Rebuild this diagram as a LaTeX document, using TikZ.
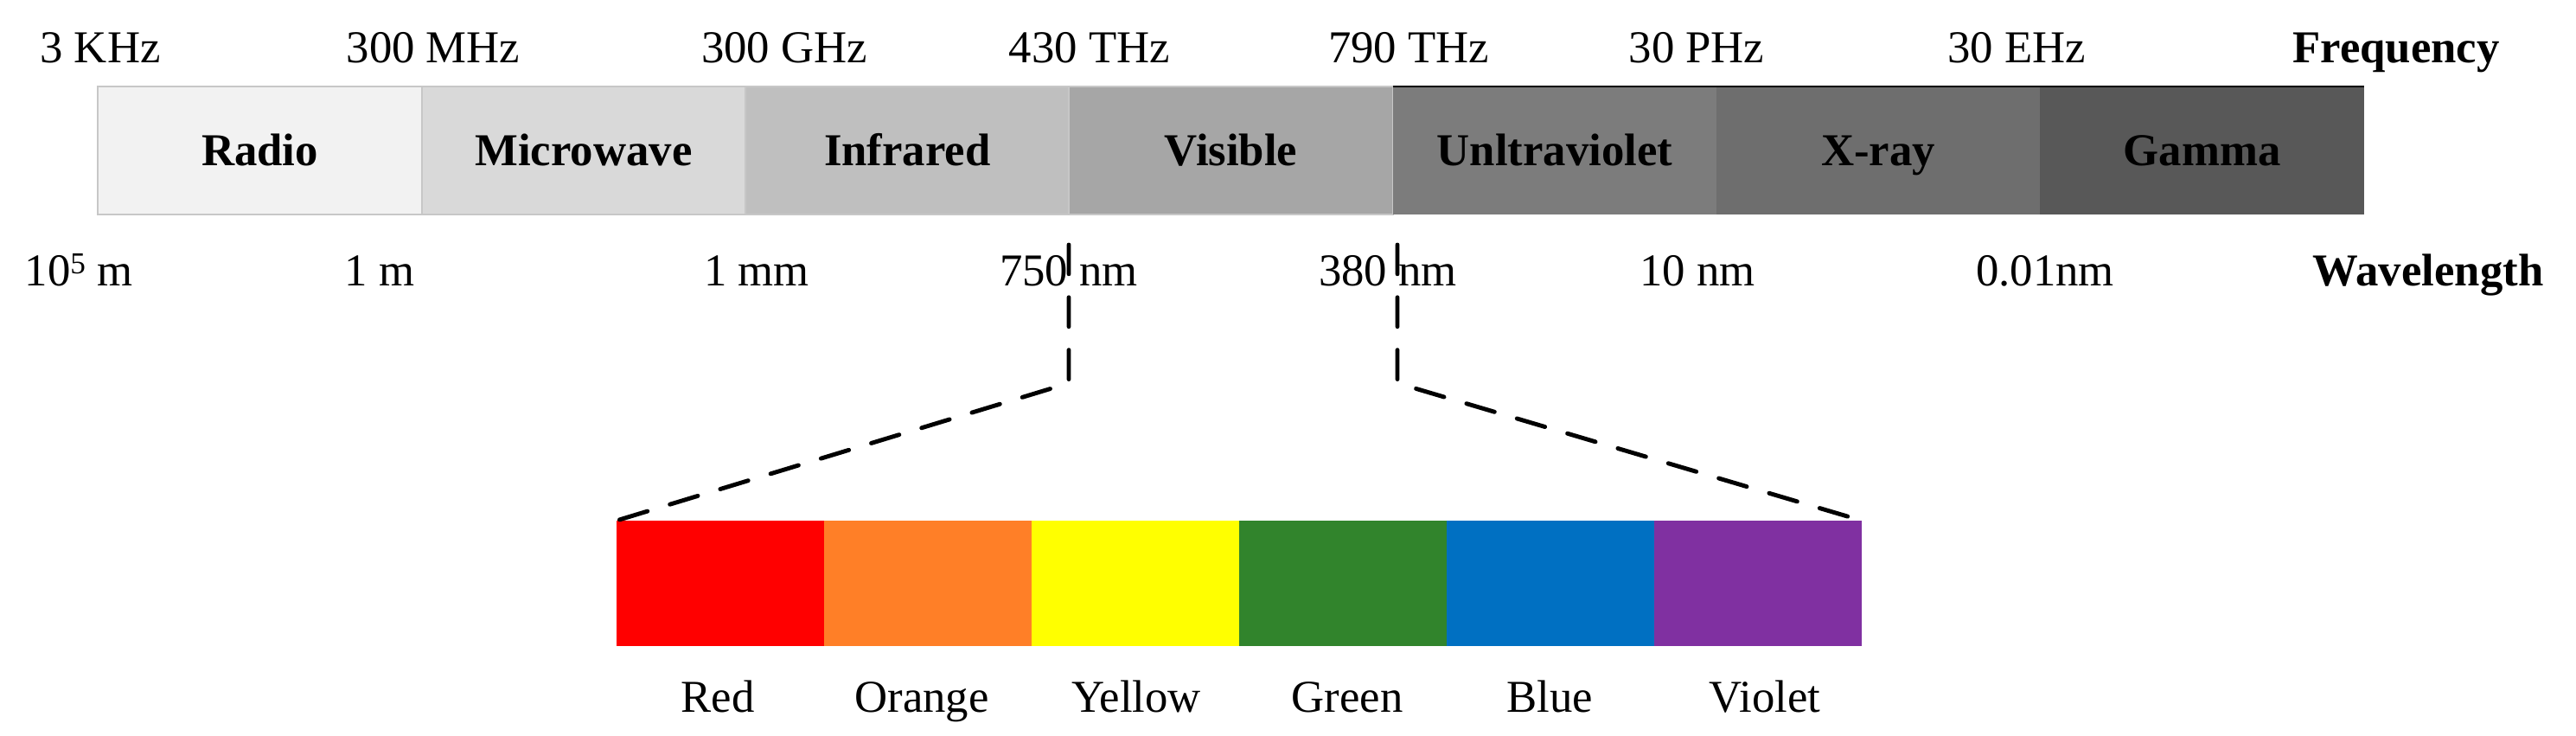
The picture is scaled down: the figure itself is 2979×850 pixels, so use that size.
\documentclass[tikz,border=0pt]{standalone}
\usepackage{fontspec}
\setmainfont{Liberation Serif}
\begin{document}
\begin{tikzpicture}[x=0.01cm,y=-0.01cm,
  font=\fontsize{15}{18}\selectfont,
  band/.style={rectangle,inner sep=0pt,outer sep=0pt,minimum width=3.743cm,minimum height=1.48cm,
     text height=14pt,text depth=3.8pt,font=\fontsize{15}{18}\selectfont\bfseries},
  lightband/.style={band,draw=black!22,line width=0.6pt},
  colorband/.style={rectangle,inner sep=0pt,outer sep=0pt,minimum width=2.4cm,minimum height=1.45cm},
  lab/.style={anchor=base,inner sep=0pt},
  axisname/.style={lab,font=\fontsize{15}{18}\selectfont\bfseries},
  zoomline/.style={line width=1.4pt,line cap=round,dash pattern=on 9.6pt off 7.7pt}
]
\useasboundingbox (0,0) rectangle (2979,850);
\definecolor{cRadio}{HTML}{F2F2F2}
\definecolor{cMicro}{HTML}{D9D9D9}
\definecolor{cIR}{HTML}{BFBFBF}
\definecolor{cVis}{HTML}{A6A6A6}
\definecolor{cUV}{HTML}{7C7C7C}
\definecolor{cX}{HTML}{6E6E6E}
\definecolor{cGamma}{HTML}{585858}
\definecolor{cRed}{HTML}{FF0000}
\definecolor{cOrange}{HTML}{FF7F27}
\definecolor{cYellow}{HTML}{FFFF00}
\definecolor{cGreen}{HTML}{31842C}
\definecolor{cBlue}{HTML}{0070C2}
\definecolor{cViolet}{HTML}{8030A1}

% spectrum bands
\node[lightband,fill=cRadio] (radio) at (300.6,174) {Radio};
\node[lightband,fill=cMicro] (micro) at (675,174) {Microwave};
\node[lightband,fill=cIR] (ir) at (1049.3,174) {Infrared};
\node[lightband,fill=cVis] (vis) at (1423.6,174) {Visible};
\node[band,fill=cUV] (uv) at (1797.9,174) {Unltraviolet};
\node[band,fill=cX] (xray) at (2172.2,174) {X-ray};
\node[band,fill=cGamma] (gamma) at (2546.5,174) {Gamma};
\draw[line width=0.4pt] (uv.north west) -- (gamma.north east);

% frequency labels
\node[lab] (f1) at (116,72) {3 KHz};
\node[lab] (f2) at (501,72) {300 MHz};
\node[lab] (f3) at (907,72) {300 GHz};
\node[lab] (f4) at (1260,72) {430 THz};
\node[lab] (f5) at (1629,72) {790 THz};
\node[lab] (f6) at (1962,72) {30 PHz};
\node[lab] (f7) at (2332,72) {30 EHz};
\node[axisname] (freq) at (2771,72) {Frequency};

% wavelength labels
\node[lab] (w1) at (91,330) {10\raisebox{0.55ex}{\fontsize{10}{12}\selectfont 5} m};
\node[lab] (w2) at (439,330) {1 m};
\node[lab] (w3) at (875,330) {1 mm};
\node[lab] (w4) at (1236,330) {750 nm};
\node[lab] (w5) at (1605,330) {380 nm};
\node[lab] (w6) at (1963,330) {10 nm};
\node[lab] (w7) at (2365,330) {0.01nm};
\node[axisname] (wave) at (2808,330) {Wavelength};

% visible colours
\node[colorband,fill=cRed] (red) at (833,674.5) {};
\node[colorband,fill=cOrange] (orange) at (1073,674.5) {};
\node[colorband,fill=cYellow] (yellow) at (1313,674.5) {};
\node[colorband,fill=cGreen] (green) at (1553,674.5) {};
\node[colorband,fill=cBlue] (blue) at (1793,674.5) {};
\node[colorband,fill=cViolet] (violet) at (2033,674.5) {};

\node[lab] (lred) at (830,823) {Red};
\node[lab] (lorange) at (1066,823) {Orange};
\node[lab] (lyellow) at (1314,823) {Yellow};
\node[lab] (lgreen) at (1558,823) {Green};
\node[lab] (lblue) at (1792,823) {Blue};
\node[lab] (lviolet) at (2041,823) {Violet};

% zoom connectors
\coordinate (t750) at (1236,283);
\coordinate (k750) at (1236,443);
\coordinate (t380) at (1616,283);
\coordinate (k380) at (1616,443);
\draw[zoomline] (t750) -- (k750) -- (red.north west);
\draw[zoomline] (t380) -- (k380) -- (violet.north east);
\end{tikzpicture}
\end{document}
